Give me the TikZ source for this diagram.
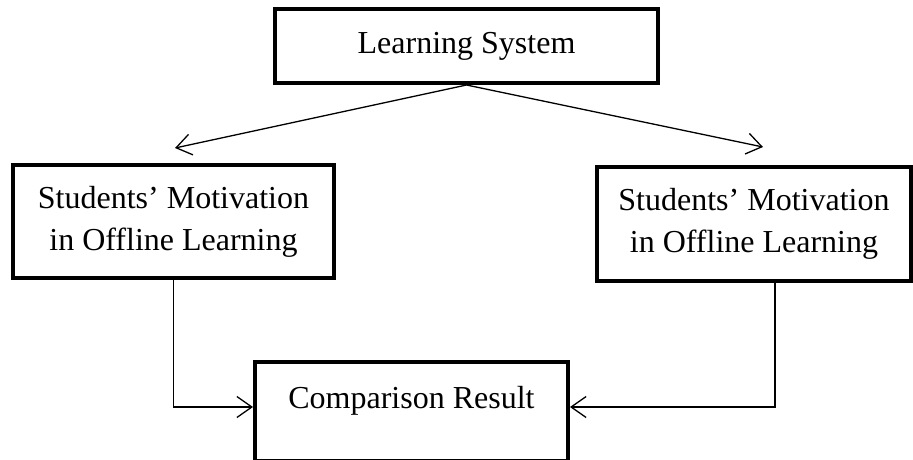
\documentclass[tikz,border=0pt]{standalone}
\usepackage{fontspec}
\setmainfont{Liberation Serif}
\usetikzlibrary{arrows.meta}
\tikzset{
	box/.style={draw, line width=4pt, rectangle, inner sep=0pt, align=center,
		font=\fontsize{32}{42}\selectfont},
	flow/.style={line width=1.3pt, -{Straight Barb[length=15pt,width=21pt,line width=1.3pt]}}
}

\begin{document}
\begin{tikzpicture}[x=1pt, y=-1pt]
			%%%%% START %%%%%
			
			\useasboundingbox (0, 0) rectangle (913, 459);
			\clip (0, 0) rectangle (913, 459);
			
			\node[box, minimum width=383pt, minimum height=74pt] (sys) at (466.5, 46) {Learning System};
			
			\node[box, minimum width=321pt, minimum height=113pt] (lm) at (173.5, 221.5) {Students’ Motivation\\in Offline Learning};
			\node[box, minimum width=314pt, minimum height=114pt] (rm) at (754, 224) {Students’ Motivation\\in Offline Learning};
			
			\node[box, minimum width=313pt, minimum height=99pt, text height=22pt, text depth=28pt] (res) at (411.5, 411.5) {Comparison Result};
			
			\coordinate (lend) at (175, 148);
			\coordinate (rend) at (763, 147);
			
			\draw[flow] (sys.south) -- (lend);
			\draw[flow] (sys.south) -- (rend);
			
			\draw[flow] (lm.south) |- ([yshift=4.5pt]res.west);
			\draw[flow] ([xshift=21pt]rm.south) |- ([yshift=4.5pt]res.east);
			
			%%%%% END %%%%%
\end{tikzpicture}
\end{document}
